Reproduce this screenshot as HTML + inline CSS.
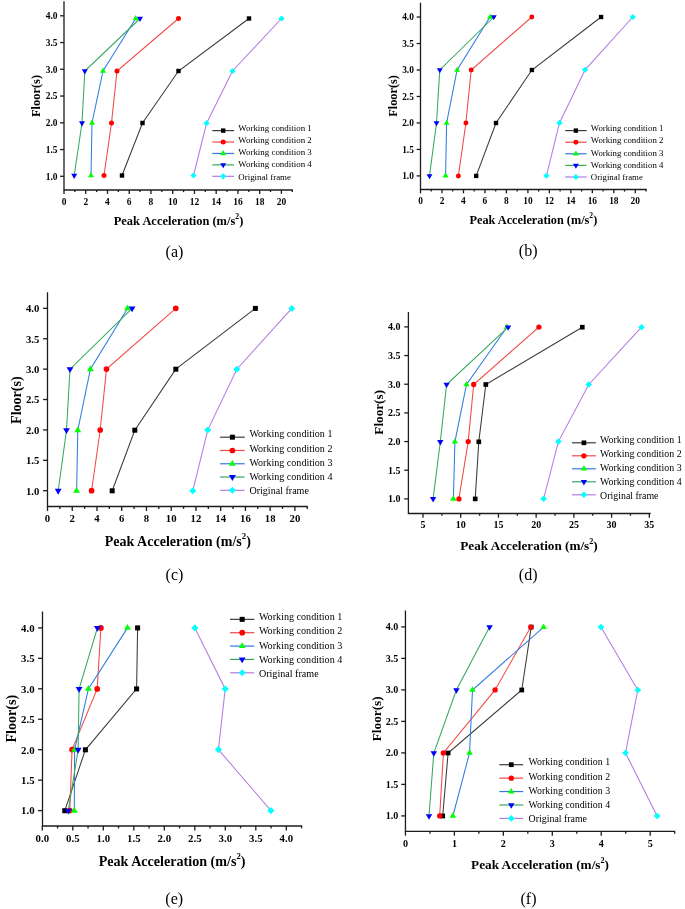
<!DOCTYPE html>
<html><head><meta charset="utf-8"><title>Peak acceleration by floor</title>
<style>
html,body{margin:0;padding:0;background:#fff;}
body{width:685px;height:909px;overflow:hidden;font-family:"Liberation Serif",serif;}
svg{display:block;font-family:"Liberation Serif",serif;fill:#000;}
svg text{filter:grayscale(1);}
</style></head><body>
<svg width="685" height="909" viewBox="0 0 685 909">
<rect width="685" height="909" fill="#fff"/>
<g id="chart-a">
<path d="M64.00 1.90 V190.00 H292.30" fill="none" stroke="#1c1c1c" stroke-width="1.3" stroke-linecap="square"/>
<path d="M64.00 176.30 h-3.9" stroke="#1c1c1c" stroke-width="1.3"/>
<text x="57.50" y="179.65" font-size="9.45" font-weight="bold" text-anchor="end">1.0</text>
<path d="M64.00 149.55 h-3.9" stroke="#1c1c1c" stroke-width="1.3"/>
<text x="57.50" y="152.90" font-size="9.45" font-weight="bold" text-anchor="end">1.5</text>
<path d="M64.00 122.80 h-3.9" stroke="#1c1c1c" stroke-width="1.3"/>
<text x="57.50" y="126.15" font-size="9.45" font-weight="bold" text-anchor="end">2.0</text>
<path d="M64.00 96.05 h-3.9" stroke="#1c1c1c" stroke-width="1.3"/>
<text x="57.50" y="99.40" font-size="9.45" font-weight="bold" text-anchor="end">2.5</text>
<path d="M64.00 69.30 h-3.9" stroke="#1c1c1c" stroke-width="1.3"/>
<text x="57.50" y="72.65" font-size="9.45" font-weight="bold" text-anchor="end">3.0</text>
<path d="M64.00 42.55 h-3.9" stroke="#1c1c1c" stroke-width="1.3"/>
<text x="57.50" y="45.90" font-size="9.45" font-weight="bold" text-anchor="end">3.5</text>
<path d="M64.00 15.80 h-3.9" stroke="#1c1c1c" stroke-width="1.3"/>
<text x="57.50" y="19.15" font-size="9.45" font-weight="bold" text-anchor="end">4.0</text>
<path d="M64.00 190.00 v3.9" stroke="#1c1c1c" stroke-width="1.3"/>
<text x="64.00" y="205.20" font-size="9.45" font-weight="bold" text-anchor="middle">0</text>
<path d="M85.74 190.00 v3.9" stroke="#1c1c1c" stroke-width="1.3"/>
<text x="85.74" y="205.20" font-size="9.45" font-weight="bold" text-anchor="middle">2</text>
<path d="M107.48 190.00 v3.9" stroke="#1c1c1c" stroke-width="1.3"/>
<text x="107.48" y="205.20" font-size="9.45" font-weight="bold" text-anchor="middle">4</text>
<path d="M129.22 190.00 v3.9" stroke="#1c1c1c" stroke-width="1.3"/>
<text x="129.22" y="205.20" font-size="9.45" font-weight="bold" text-anchor="middle">6</text>
<path d="M150.96 190.00 v3.9" stroke="#1c1c1c" stroke-width="1.3"/>
<text x="150.96" y="205.20" font-size="9.45" font-weight="bold" text-anchor="middle">8</text>
<path d="M172.70 190.00 v3.9" stroke="#1c1c1c" stroke-width="1.3"/>
<text x="172.70" y="205.20" font-size="9.45" font-weight="bold" text-anchor="middle">10</text>
<path d="M194.44 190.00 v3.9" stroke="#1c1c1c" stroke-width="1.3"/>
<text x="194.44" y="205.20" font-size="9.45" font-weight="bold" text-anchor="middle">12</text>
<path d="M216.18 190.00 v3.9" stroke="#1c1c1c" stroke-width="1.3"/>
<text x="216.18" y="205.20" font-size="9.45" font-weight="bold" text-anchor="middle">14</text>
<path d="M237.92 190.00 v3.9" stroke="#1c1c1c" stroke-width="1.3"/>
<text x="237.92" y="205.20" font-size="9.45" font-weight="bold" text-anchor="middle">16</text>
<path d="M259.66 190.00 v3.9" stroke="#1c1c1c" stroke-width="1.3"/>
<text x="259.66" y="205.20" font-size="9.45" font-weight="bold" text-anchor="middle">18</text>
<path d="M281.40 190.00 v3.9" stroke="#1c1c1c" stroke-width="1.3"/>
<text x="281.40" y="205.20" font-size="9.45" font-weight="bold" text-anchor="middle">20</text>
<path d="M74.87 190.00 v2.1" stroke="#1c1c1c" stroke-width="1.3"/>
<path d="M96.61 190.00 v2.1" stroke="#1c1c1c" stroke-width="1.3"/>
<path d="M118.35 190.00 v2.1" stroke="#1c1c1c" stroke-width="1.3"/>
<path d="M140.09 190.00 v2.1" stroke="#1c1c1c" stroke-width="1.3"/>
<path d="M161.83 190.00 v2.1" stroke="#1c1c1c" stroke-width="1.3"/>
<path d="M183.57 190.00 v2.1" stroke="#1c1c1c" stroke-width="1.3"/>
<path d="M205.31 190.00 v2.1" stroke="#1c1c1c" stroke-width="1.3"/>
<path d="M227.05 190.00 v2.1" stroke="#1c1c1c" stroke-width="1.3"/>
<path d="M248.79 190.00 v2.1" stroke="#1c1c1c" stroke-width="1.3"/>
<path d="M270.53 190.00 v2.1" stroke="#1c1c1c" stroke-width="1.3"/>
<path d="M292.27 190.00 v2.1" stroke="#1c1c1c" stroke-width="1.3"/>
<text x="178.5" y="225.20" font-size="12.45" font-weight="bold" text-anchor="middle">Peak Acceleration (m/s<tspan font-size="7.72" dy="-5.85">2</tspan><tspan dy="5.85">)</tspan></text>
<text transform="translate(40.20 96) rotate(-90)" font-size="12.45" font-weight="bold" text-anchor="middle">Floor(s)</text>
<text x="174.5" y="256.70" font-size="16" text-anchor="middle">(a)</text>
<polyline fill="none" stroke="#3a3a3a" stroke-width="1.05" points="122.00,175.50 142.50,123.00 178.50,71.00 249.00,18.50"/>
<polyline fill="none" stroke="#f04a45" stroke-width="1.05" points="104.00,175.50 111.50,123.00 117.00,71.00 178.50,18.50"/>
<polyline fill="none" stroke="#2f7be0" stroke-width="1.05" points="91.00,175.50 92.00,123.00 103.00,71.00 135.70,18.50"/>
<polyline fill="none" stroke="#35a860" stroke-width="1.05" points="74.20,175.50 82.00,123.00 84.80,71.00 140.00,18.50"/>
<polyline fill="none" stroke="#b57be0" stroke-width="1.05" points="193.50,175.50 206.60,123.20 232.50,71.00 281.50,18.50"/>
<rect x="119.80" y="173.30" width="4.40" height="4.40" fill="#000000"/>
<rect x="140.30" y="120.80" width="4.40" height="4.40" fill="#000000"/>
<rect x="176.30" y="68.80" width="4.40" height="4.40" fill="#000000"/>
<rect x="246.80" y="16.30" width="4.40" height="4.40" fill="#000000"/>
<circle cx="104.00" cy="175.50" r="2.50" fill="#ff0000"/>
<circle cx="111.50" cy="123.00" r="2.50" fill="#ff0000"/>
<circle cx="117.00" cy="71.00" r="2.50" fill="#ff0000"/>
<circle cx="178.50" cy="18.50" r="2.50" fill="#ff0000"/>
<path d="M91.00 172.10 L94.00 177.20 L88.00 177.20Z" fill="#00ff00"/>
<path d="M92.00 119.60 L95.00 124.70 L89.00 124.70Z" fill="#00ff00"/>
<path d="M103.00 67.60 L106.00 72.70 L100.00 72.70Z" fill="#00ff00"/>
<path d="M135.70 15.10 L138.70 20.20 L132.70 20.20Z" fill="#00ff00"/>
<path d="M74.20 178.90 L77.20 173.80 L71.20 173.80Z" fill="#0000ff"/>
<path d="M82.00 126.40 L85.00 121.30 L79.00 121.30Z" fill="#0000ff"/>
<path d="M84.80 74.40 L87.80 69.30 L81.80 69.30Z" fill="#0000ff"/>
<path d="M140.00 21.90 L143.00 16.80 L137.00 16.80Z" fill="#0000ff"/>
<path d="M193.50 172.40 L196.60 175.50 L193.50 178.60 L190.40 175.50Z" fill="#00ffff"/>
<path d="M206.60 120.10 L209.70 123.20 L206.60 126.30 L203.50 123.20Z" fill="#00ffff"/>
<path d="M232.50 67.90 L235.60 71.00 L232.50 74.10 L229.40 71.00Z" fill="#00ffff"/>
<path d="M281.50 15.40 L284.60 18.50 L281.50 21.60 L278.40 18.50Z" fill="#00ffff"/>
<path d="M212.3 130.60 H234.1" stroke="#3a3a3a" stroke-width="1.2"/>
<rect x="221.00" y="128.40" width="4.40" height="4.40" fill="#000000"/>
<text x="238.3" y="130.50" font-size="8.92">Working condition 1</text>
<path d="M212.3 142.03 H234.1" stroke="#f04a45" stroke-width="1.2"/>
<circle cx="223.20" cy="142.03" r="2.50" fill="#ff0000"/>
<text x="238.3" y="142.75" font-size="8.92">Working condition 2</text>
<path d="M212.3 153.46 H234.1" stroke="#2f7be0" stroke-width="1.2"/>
<path d="M223.20 150.06 L226.20 155.16 L220.20 155.16Z" fill="#00ff00"/>
<text x="238.3" y="155.00" font-size="8.92">Working condition 3</text>
<path d="M212.3 164.89 H234.1" stroke="#35a860" stroke-width="1.2"/>
<path d="M223.20 168.29 L226.20 163.19 L220.20 163.19Z" fill="#0000ff"/>
<text x="238.3" y="167.25" font-size="8.92">Working condition 4</text>
<path d="M212.3 176.32 H234.1" stroke="#b57be0" stroke-width="1.2"/>
<path d="M223.20 173.22 L226.30 176.32 L223.20 179.42 L220.10 176.32Z" fill="#00ffff"/>
<text x="238.3" y="179.50" font-size="8.92">Original frame</text>
</g>
<g id="chart-b">
<path d="M420.50 3.50 V189.50 H646.00" fill="none" stroke="#1c1c1c" stroke-width="1.3" stroke-linecap="square"/>
<path d="M420.50 175.90 h-3.8609999999999998" stroke="#1c1c1c" stroke-width="1.3"/>
<text x="413.90" y="179.23" font-size="9.37" font-weight="bold" text-anchor="end">1.0</text>
<path d="M420.50 149.43 h-3.8609999999999998" stroke="#1c1c1c" stroke-width="1.3"/>
<text x="413.90" y="152.75" font-size="9.37" font-weight="bold" text-anchor="end">1.5</text>
<path d="M420.50 122.95 h-3.8609999999999998" stroke="#1c1c1c" stroke-width="1.3"/>
<text x="413.90" y="126.28" font-size="9.37" font-weight="bold" text-anchor="end">2.0</text>
<path d="M420.50 96.48 h-3.8609999999999998" stroke="#1c1c1c" stroke-width="1.3"/>
<text x="413.90" y="99.80" font-size="9.37" font-weight="bold" text-anchor="end">2.5</text>
<path d="M420.50 70.00 h-3.8609999999999998" stroke="#1c1c1c" stroke-width="1.3"/>
<text x="413.90" y="73.33" font-size="9.37" font-weight="bold" text-anchor="end">3.0</text>
<path d="M420.50 43.53 h-3.8609999999999998" stroke="#1c1c1c" stroke-width="1.3"/>
<text x="413.90" y="46.85" font-size="9.37" font-weight="bold" text-anchor="end">3.5</text>
<path d="M420.50 17.05 h-3.8609999999999998" stroke="#1c1c1c" stroke-width="1.3"/>
<text x="413.90" y="20.38" font-size="9.37" font-weight="bold" text-anchor="end">4.0</text>
<path d="M420.50 189.50 v3.8609999999999998" stroke="#1c1c1c" stroke-width="1.3"/>
<text x="420.50" y="203.50" font-size="9.37" font-weight="bold" text-anchor="middle">0</text>
<path d="M441.98 189.50 v3.8609999999999998" stroke="#1c1c1c" stroke-width="1.3"/>
<text x="441.98" y="203.50" font-size="9.37" font-weight="bold" text-anchor="middle">2</text>
<path d="M463.46 189.50 v3.8609999999999998" stroke="#1c1c1c" stroke-width="1.3"/>
<text x="463.46" y="203.50" font-size="9.37" font-weight="bold" text-anchor="middle">4</text>
<path d="M484.94 189.50 v3.8609999999999998" stroke="#1c1c1c" stroke-width="1.3"/>
<text x="484.94" y="203.50" font-size="9.37" font-weight="bold" text-anchor="middle">6</text>
<path d="M506.42 189.50 v3.8609999999999998" stroke="#1c1c1c" stroke-width="1.3"/>
<text x="506.42" y="203.50" font-size="9.37" font-weight="bold" text-anchor="middle">8</text>
<path d="M527.90 189.50 v3.8609999999999998" stroke="#1c1c1c" stroke-width="1.3"/>
<text x="527.90" y="203.50" font-size="9.37" font-weight="bold" text-anchor="middle">10</text>
<path d="M549.38 189.50 v3.8609999999999998" stroke="#1c1c1c" stroke-width="1.3"/>
<text x="549.38" y="203.50" font-size="9.37" font-weight="bold" text-anchor="middle">12</text>
<path d="M570.86 189.50 v3.8609999999999998" stroke="#1c1c1c" stroke-width="1.3"/>
<text x="570.86" y="203.50" font-size="9.37" font-weight="bold" text-anchor="middle">14</text>
<path d="M592.34 189.50 v3.8609999999999998" stroke="#1c1c1c" stroke-width="1.3"/>
<text x="592.34" y="203.50" font-size="9.37" font-weight="bold" text-anchor="middle">16</text>
<path d="M613.82 189.50 v3.8609999999999998" stroke="#1c1c1c" stroke-width="1.3"/>
<text x="613.82" y="203.50" font-size="9.37" font-weight="bold" text-anchor="middle">18</text>
<path d="M635.30 189.50 v3.8609999999999998" stroke="#1c1c1c" stroke-width="1.3"/>
<text x="635.30" y="203.50" font-size="9.37" font-weight="bold" text-anchor="middle">20</text>
<path d="M431.24 189.50 v2.079" stroke="#1c1c1c" stroke-width="1.3"/>
<path d="M452.72 189.50 v2.079" stroke="#1c1c1c" stroke-width="1.3"/>
<path d="M474.20 189.50 v2.079" stroke="#1c1c1c" stroke-width="1.3"/>
<path d="M495.68 189.50 v2.079" stroke="#1c1c1c" stroke-width="1.3"/>
<path d="M517.16 189.50 v2.079" stroke="#1c1c1c" stroke-width="1.3"/>
<path d="M538.64 189.50 v2.079" stroke="#1c1c1c" stroke-width="1.3"/>
<path d="M560.12 189.50 v2.079" stroke="#1c1c1c" stroke-width="1.3"/>
<path d="M581.60 189.50 v2.079" stroke="#1c1c1c" stroke-width="1.3"/>
<path d="M603.08 189.50 v2.079" stroke="#1c1c1c" stroke-width="1.3"/>
<path d="M624.56 189.50 v2.079" stroke="#1c1c1c" stroke-width="1.3"/>
<path d="M646.04 189.50 v2.079" stroke="#1c1c1c" stroke-width="1.3"/>
<text x="533.4" y="223.60" font-size="12.25" font-weight="bold" text-anchor="middle">Peak Acceleration (m/s<tspan font-size="7.59" dy="-5.76">2</tspan><tspan dy="5.76">)</tspan></text>
<text transform="translate(396.80 95.9) rotate(-90)" font-size="12.25" font-weight="bold" text-anchor="middle">Floor(s)</text>
<text x="528.2" y="256.00" font-size="16" text-anchor="middle">(b)</text>
<polyline fill="none" stroke="#3a3a3a" stroke-width="1.05" points="476.20,175.90 496.00,123.00 531.90,70.00 601.10,17.00"/>
<polyline fill="none" stroke="#f04a45" stroke-width="1.05" points="458.40,175.90 465.90,123.00 471.20,70.00 531.80,17.00"/>
<polyline fill="none" stroke="#2f7be0" stroke-width="1.05" points="445.60,175.90 446.60,123.00 457.10,70.00 490.00,17.00"/>
<polyline fill="none" stroke="#35a860" stroke-width="1.05" points="429.50,175.90 436.50,123.00 439.80,70.00 493.80,17.00"/>
<polyline fill="none" stroke="#b57be0" stroke-width="1.05" points="546.40,175.80 559.50,122.90 585.10,69.80 632.80,17.00"/>
<rect x="474.02" y="173.72" width="4.36" height="4.36" fill="#000000"/>
<rect x="493.82" y="120.82" width="4.36" height="4.36" fill="#000000"/>
<rect x="529.72" y="67.82" width="4.36" height="4.36" fill="#000000"/>
<rect x="598.92" y="14.82" width="4.36" height="4.36" fill="#000000"/>
<circle cx="458.40" cy="175.90" r="2.48" fill="#ff0000"/>
<circle cx="465.90" cy="123.00" r="2.48" fill="#ff0000"/>
<circle cx="471.20" cy="70.00" r="2.48" fill="#ff0000"/>
<circle cx="531.80" cy="17.00" r="2.48" fill="#ff0000"/>
<path d="M445.60 172.53 L448.57 177.58 L442.63 177.58Z" fill="#00ff00"/>
<path d="M446.60 119.63 L449.57 124.68 L443.63 124.68Z" fill="#00ff00"/>
<path d="M457.10 66.63 L460.07 71.68 L454.13 71.68Z" fill="#00ff00"/>
<path d="M490.00 13.63 L492.97 18.68 L487.03 18.68Z" fill="#00ff00"/>
<path d="M429.50 179.27 L432.47 174.22 L426.53 174.22Z" fill="#0000ff"/>
<path d="M436.50 126.37 L439.47 121.32 L433.53 121.32Z" fill="#0000ff"/>
<path d="M439.80 73.37 L442.77 68.32 L436.83 68.32Z" fill="#0000ff"/>
<path d="M493.80 20.37 L496.77 15.32 L490.83 15.32Z" fill="#0000ff"/>
<path d="M546.40 172.73 L549.47 175.80 L546.40 178.87 L543.33 175.80Z" fill="#00ffff"/>
<path d="M559.50 119.83 L562.57 122.90 L559.50 125.97 L556.43 122.90Z" fill="#00ffff"/>
<path d="M585.10 66.73 L588.17 69.80 L585.10 72.87 L582.03 69.80Z" fill="#00ffff"/>
<path d="M632.80 13.93 L635.87 17.00 L632.80 20.07 L629.73 17.00Z" fill="#00ffff"/>
<path d="M565.2 130.60 H586.6" stroke="#3a3a3a" stroke-width="1.2"/>
<rect x="573.72" y="128.42" width="4.36" height="4.36" fill="#000000"/>
<text x="590.8" y="130.60" font-size="8.8">Working condition 1</text>
<path d="M565.2 142.20 H586.6" stroke="#f04a45" stroke-width="1.2"/>
<circle cx="575.90" cy="142.20" r="2.48" fill="#ff0000"/>
<text x="590.8" y="143.05" font-size="8.8">Working condition 2</text>
<path d="M565.2 153.80 H586.6" stroke="#2f7be0" stroke-width="1.2"/>
<path d="M575.90 150.43 L578.87 155.48 L572.93 155.48Z" fill="#00ff00"/>
<text x="590.8" y="155.50" font-size="8.8">Working condition 3</text>
<path d="M565.2 165.40 H586.6" stroke="#35a860" stroke-width="1.2"/>
<path d="M575.90 168.77 L578.87 163.72 L572.93 163.72Z" fill="#0000ff"/>
<text x="590.8" y="167.95" font-size="8.8">Working condition 4</text>
<path d="M565.2 177.00 H586.6" stroke="#b57be0" stroke-width="1.2"/>
<path d="M575.90 173.93 L578.97 177.00 L575.90 180.07 L572.83 177.00Z" fill="#00ffff"/>
<text x="590.8" y="180.40" font-size="8.8">Original frame</text>
</g>
<g id="chart-c">
<path d="M47.50 293.00 V506.50 H307.20" fill="none" stroke="#1c1c1c" stroke-width="1.3" stroke-linecap="square"/>
<path d="M47.50 490.70 h-4.4304" stroke="#1c1c1c" stroke-width="1.3"/>
<text x="39.40" y="494.51" font-size="10.73" font-weight="bold" text-anchor="end">1.0</text>
<path d="M47.50 460.31 h-4.4304" stroke="#1c1c1c" stroke-width="1.3"/>
<text x="39.40" y="464.12" font-size="10.73" font-weight="bold" text-anchor="end">1.5</text>
<path d="M47.50 429.92 h-4.4304" stroke="#1c1c1c" stroke-width="1.3"/>
<text x="39.40" y="433.73" font-size="10.73" font-weight="bold" text-anchor="end">2.0</text>
<path d="M47.50 399.52 h-4.4304" stroke="#1c1c1c" stroke-width="1.3"/>
<text x="39.40" y="403.33" font-size="10.73" font-weight="bold" text-anchor="end">2.5</text>
<path d="M47.50 369.13 h-4.4304" stroke="#1c1c1c" stroke-width="1.3"/>
<text x="39.40" y="372.94" font-size="10.73" font-weight="bold" text-anchor="end">3.0</text>
<path d="M47.50 338.74 h-4.4304" stroke="#1c1c1c" stroke-width="1.3"/>
<text x="39.40" y="342.55" font-size="10.73" font-weight="bold" text-anchor="end">3.5</text>
<path d="M47.50 308.35 h-4.4304" stroke="#1c1c1c" stroke-width="1.3"/>
<text x="39.40" y="312.16" font-size="10.73" font-weight="bold" text-anchor="end">4.0</text>
<path d="M47.50 506.50 v4.4304" stroke="#1c1c1c" stroke-width="1.3"/>
<text x="47.50" y="522.30" font-size="10.73" font-weight="bold" text-anchor="middle">0</text>
<path d="M72.24 506.50 v4.4304" stroke="#1c1c1c" stroke-width="1.3"/>
<text x="72.24" y="522.30" font-size="10.73" font-weight="bold" text-anchor="middle">2</text>
<path d="M96.98 506.50 v4.4304" stroke="#1c1c1c" stroke-width="1.3"/>
<text x="96.98" y="522.30" font-size="10.73" font-weight="bold" text-anchor="middle">4</text>
<path d="M121.72 506.50 v4.4304" stroke="#1c1c1c" stroke-width="1.3"/>
<text x="121.72" y="522.30" font-size="10.73" font-weight="bold" text-anchor="middle">6</text>
<path d="M146.46 506.50 v4.4304" stroke="#1c1c1c" stroke-width="1.3"/>
<text x="146.46" y="522.30" font-size="10.73" font-weight="bold" text-anchor="middle">8</text>
<path d="M171.20 506.50 v4.4304" stroke="#1c1c1c" stroke-width="1.3"/>
<text x="171.20" y="522.30" font-size="10.73" font-weight="bold" text-anchor="middle">10</text>
<path d="M195.94 506.50 v4.4304" stroke="#1c1c1c" stroke-width="1.3"/>
<text x="195.94" y="522.30" font-size="10.73" font-weight="bold" text-anchor="middle">12</text>
<path d="M220.68 506.50 v4.4304" stroke="#1c1c1c" stroke-width="1.3"/>
<text x="220.68" y="522.30" font-size="10.73" font-weight="bold" text-anchor="middle">14</text>
<path d="M245.42 506.50 v4.4304" stroke="#1c1c1c" stroke-width="1.3"/>
<text x="245.42" y="522.30" font-size="10.73" font-weight="bold" text-anchor="middle">16</text>
<path d="M270.16 506.50 v4.4304" stroke="#1c1c1c" stroke-width="1.3"/>
<text x="270.16" y="522.30" font-size="10.73" font-weight="bold" text-anchor="middle">18</text>
<path d="M294.90 506.50 v4.4304" stroke="#1c1c1c" stroke-width="1.3"/>
<text x="294.90" y="522.30" font-size="10.73" font-weight="bold" text-anchor="middle">20</text>
<path d="M59.87 506.50 v2.3855999999999997" stroke="#1c1c1c" stroke-width="1.3"/>
<path d="M84.61 506.50 v2.3855999999999997" stroke="#1c1c1c" stroke-width="1.3"/>
<path d="M109.35 506.50 v2.3855999999999997" stroke="#1c1c1c" stroke-width="1.3"/>
<path d="M134.09 506.50 v2.3855999999999997" stroke="#1c1c1c" stroke-width="1.3"/>
<path d="M158.83 506.50 v2.3855999999999997" stroke="#1c1c1c" stroke-width="1.3"/>
<path d="M183.57 506.50 v2.3855999999999997" stroke="#1c1c1c" stroke-width="1.3"/>
<path d="M208.31 506.50 v2.3855999999999997" stroke="#1c1c1c" stroke-width="1.3"/>
<path d="M233.05 506.50 v2.3855999999999997" stroke="#1c1c1c" stroke-width="1.3"/>
<path d="M257.79 506.50 v2.3855999999999997" stroke="#1c1c1c" stroke-width="1.3"/>
<path d="M282.53 506.50 v2.3855999999999997" stroke="#1c1c1c" stroke-width="1.3"/>
<path d="M307.27 506.50 v2.3855999999999997" stroke="#1c1c1c" stroke-width="1.3"/>
<text x="177.8" y="545.95" font-size="14.03" font-weight="bold" text-anchor="middle">Peak Acceleration (m/s<tspan font-size="8.70" dy="-6.59">2</tspan><tspan dy="6.59">)</tspan></text>
<text transform="translate(21.40 400.2) rotate(-90)" font-size="14.03" font-weight="bold" text-anchor="middle">Floor(s)</text>
<text x="174.5" y="579.80" font-size="16" text-anchor="middle">(c)</text>
<polyline fill="none" stroke="#3a3a3a" stroke-width="1.05" points="112.20,490.80 134.80,430.20 175.80,369.20 255.40,308.40"/>
<polyline fill="none" stroke="#f04a45" stroke-width="1.05" points="91.60,490.70 100.20,430.00 106.50,369.10 175.80,308.30"/>
<polyline fill="none" stroke="#2f7be0" stroke-width="1.05" points="76.60,490.80 77.80,430.20 90.40,369.20 127.50,308.40"/>
<polyline fill="none" stroke="#35a860" stroke-width="1.05" points="58.20,490.80 66.50,430.20 70.00,369.20 132.10,308.40"/>
<polyline fill="none" stroke="#b57be0" stroke-width="1.05" points="192.80,490.80 207.70,430.10 236.80,369.20 291.80,308.40"/>
<rect x="109.70" y="488.30" width="5.00" height="5.00" fill="#000000"/>
<rect x="132.30" y="427.70" width="5.00" height="5.00" fill="#000000"/>
<rect x="173.30" y="366.70" width="5.00" height="5.00" fill="#000000"/>
<rect x="252.90" y="305.90" width="5.00" height="5.00" fill="#000000"/>
<circle cx="91.60" cy="490.70" r="2.84" fill="#ff0000"/>
<circle cx="100.20" cy="430.00" r="2.84" fill="#ff0000"/>
<circle cx="106.50" cy="369.10" r="2.84" fill="#ff0000"/>
<circle cx="175.80" cy="308.30" r="2.84" fill="#ff0000"/>
<path d="M76.60 486.94 L80.01 492.73 L73.19 492.73Z" fill="#00ff00"/>
<path d="M77.80 426.34 L81.21 432.13 L74.39 432.13Z" fill="#00ff00"/>
<path d="M90.40 365.34 L93.81 371.13 L86.99 371.13Z" fill="#00ff00"/>
<path d="M127.50 304.54 L130.91 310.33 L124.09 310.33Z" fill="#00ff00"/>
<path d="M58.20 494.66 L61.61 488.87 L54.79 488.87Z" fill="#0000ff"/>
<path d="M66.50 434.06 L69.91 428.27 L63.09 428.27Z" fill="#0000ff"/>
<path d="M70.00 373.06 L73.41 367.27 L66.59 367.27Z" fill="#0000ff"/>
<path d="M132.10 312.26 L135.51 306.47 L128.69 306.47Z" fill="#0000ff"/>
<path d="M192.80 487.28 L196.32 490.80 L192.80 494.32 L189.28 490.80Z" fill="#00ffff"/>
<path d="M207.70 426.58 L211.22 430.10 L207.70 433.62 L204.18 430.10Z" fill="#00ffff"/>
<path d="M236.80 365.68 L240.32 369.20 L236.80 372.72 L233.28 369.20Z" fill="#00ffff"/>
<path d="M291.80 304.88 L295.32 308.40 L291.80 311.92 L288.28 308.40Z" fill="#00ffff"/>
<path d="M220.1 437.20 H244.7" stroke="#3a3a3a" stroke-width="1.2"/>
<rect x="229.90" y="434.70" width="5.00" height="5.00" fill="#000000"/>
<text x="249.4" y="437.40" font-size="10.07">Working condition 1</text>
<path d="M220.1 450.48 H244.7" stroke="#f04a45" stroke-width="1.2"/>
<circle cx="232.40" cy="450.48" r="2.84" fill="#ff0000"/>
<text x="249.4" y="451.60" font-size="10.07">Working condition 2</text>
<path d="M220.1 463.76 H244.7" stroke="#2f7be0" stroke-width="1.2"/>
<path d="M232.40 459.90 L235.81 465.69 L228.99 465.69Z" fill="#00ff00"/>
<text x="249.4" y="465.80" font-size="10.07">Working condition 3</text>
<path d="M220.1 477.04 H244.7" stroke="#35a860" stroke-width="1.2"/>
<path d="M232.40 480.90 L235.81 475.11 L228.99 475.11Z" fill="#0000ff"/>
<text x="249.4" y="480.00" font-size="10.07">Working condition 4</text>
<path d="M220.1 490.32 H244.7" stroke="#b57be0" stroke-width="1.2"/>
<path d="M232.40 486.80 L235.92 490.32 L232.40 493.84 L228.88 490.32Z" fill="#00ffff"/>
<text x="249.4" y="494.20" font-size="10.07">Original frame</text>
</g>
<g id="chart-d">
<path d="M408.40 312.55 V513.50 H650.00" fill="none" stroke="#1c1c1c" stroke-width="1.3" stroke-linecap="square"/>
<path d="M408.40 498.90 h-4.134" stroke="#1c1c1c" stroke-width="1.3"/>
<text x="400.60" y="502.45" font-size="10.0" font-weight="bold" text-anchor="end">1.0</text>
<path d="M408.40 470.23 h-4.134" stroke="#1c1c1c" stroke-width="1.3"/>
<text x="400.60" y="473.78" font-size="10.0" font-weight="bold" text-anchor="end">1.5</text>
<path d="M408.40 441.57 h-4.134" stroke="#1c1c1c" stroke-width="1.3"/>
<text x="400.60" y="445.12" font-size="10.0" font-weight="bold" text-anchor="end">2.0</text>
<path d="M408.40 412.90 h-4.134" stroke="#1c1c1c" stroke-width="1.3"/>
<text x="400.60" y="416.45" font-size="10.0" font-weight="bold" text-anchor="end">2.5</text>
<path d="M408.40 384.23 h-4.134" stroke="#1c1c1c" stroke-width="1.3"/>
<text x="400.60" y="387.78" font-size="10.0" font-weight="bold" text-anchor="end">3.0</text>
<path d="M408.40 355.57 h-4.134" stroke="#1c1c1c" stroke-width="1.3"/>
<text x="400.60" y="359.12" font-size="10.0" font-weight="bold" text-anchor="end">3.5</text>
<path d="M408.40 326.90 h-4.134" stroke="#1c1c1c" stroke-width="1.3"/>
<text x="400.60" y="330.45" font-size="10.0" font-weight="bold" text-anchor="end">4.0</text>
<path d="M423.00 513.50 v4.134" stroke="#1c1c1c" stroke-width="1.3"/>
<text x="423.00" y="528.20" font-size="10.0" font-weight="bold" text-anchor="middle">5</text>
<path d="M460.72 513.50 v4.134" stroke="#1c1c1c" stroke-width="1.3"/>
<text x="460.72" y="528.20" font-size="10.0" font-weight="bold" text-anchor="middle">10</text>
<path d="M498.44 513.50 v4.134" stroke="#1c1c1c" stroke-width="1.3"/>
<text x="498.44" y="528.20" font-size="10.0" font-weight="bold" text-anchor="middle">15</text>
<path d="M536.16 513.50 v4.134" stroke="#1c1c1c" stroke-width="1.3"/>
<text x="536.16" y="528.20" font-size="10.0" font-weight="bold" text-anchor="middle">20</text>
<path d="M573.88 513.50 v4.134" stroke="#1c1c1c" stroke-width="1.3"/>
<text x="573.88" y="528.20" font-size="10.0" font-weight="bold" text-anchor="middle">25</text>
<path d="M611.60 513.50 v4.134" stroke="#1c1c1c" stroke-width="1.3"/>
<text x="611.60" y="528.20" font-size="10.0" font-weight="bold" text-anchor="middle">30</text>
<path d="M649.32 513.50 v4.134" stroke="#1c1c1c" stroke-width="1.3"/>
<text x="649.32" y="528.20" font-size="10.0" font-weight="bold" text-anchor="middle">35</text>
<path d="M441.86 513.50 v2.2260000000000004" stroke="#1c1c1c" stroke-width="1.3"/>
<path d="M479.58 513.50 v2.2260000000000004" stroke="#1c1c1c" stroke-width="1.3"/>
<path d="M517.30 513.50 v2.2260000000000004" stroke="#1c1c1c" stroke-width="1.3"/>
<path d="M555.02 513.50 v2.2260000000000004" stroke="#1c1c1c" stroke-width="1.3"/>
<path d="M592.74 513.50 v2.2260000000000004" stroke="#1c1c1c" stroke-width="1.3"/>
<path d="M630.46 513.50 v2.2260000000000004" stroke="#1c1c1c" stroke-width="1.3"/>
<text x="529.0" y="550.00" font-size="13.2" font-weight="bold" text-anchor="middle">Peak Acceleration (m/s<tspan font-size="8.18" dy="-6.20">2</tspan><tspan dy="6.20">)</tspan></text>
<text transform="translate(382.90 412.3) rotate(-90)" font-size="13.2" font-weight="bold" text-anchor="middle">Floor(s)</text>
<text x="528.2" y="579.80" font-size="16" text-anchor="middle">(d)</text>
<polyline fill="none" stroke="#3a3a3a" stroke-width="1.05" points="475.20,498.90 478.80,441.80 485.80,384.50 582.30,327.20"/>
<polyline fill="none" stroke="#f04a45" stroke-width="1.05" points="458.90,498.90 468.20,441.60 473.70,384.50 538.90,327.10"/>
<polyline fill="none" stroke="#2f7be0" stroke-width="1.05" points="453.40,498.90 454.90,441.80 466.50,384.50 506.90,327.20"/>
<polyline fill="none" stroke="#35a860" stroke-width="1.05" points="433.10,498.90 440.30,441.80 446.60,384.50 508.10,327.20"/>
<polyline fill="none" stroke="#b57be0" stroke-width="1.05" points="543.60,498.80 558.40,441.60 588.80,384.50 641.50,327.20"/>
<rect x="472.87" y="496.57" width="4.66" height="4.66" fill="#000000"/>
<rect x="476.47" y="439.47" width="4.66" height="4.66" fill="#000000"/>
<rect x="483.47" y="382.17" width="4.66" height="4.66" fill="#000000"/>
<rect x="579.97" y="324.87" width="4.66" height="4.66" fill="#000000"/>
<circle cx="458.90" cy="498.90" r="2.65" fill="#ff0000"/>
<circle cx="468.20" cy="441.60" r="2.65" fill="#ff0000"/>
<circle cx="473.70" cy="384.50" r="2.65" fill="#ff0000"/>
<circle cx="538.90" cy="327.10" r="2.65" fill="#ff0000"/>
<path d="M453.40 495.30 L456.58 500.70 L450.22 500.70Z" fill="#00ff00"/>
<path d="M454.90 438.20 L458.08 443.60 L451.72 443.60Z" fill="#00ff00"/>
<path d="M466.50 380.90 L469.68 386.30 L463.32 386.30Z" fill="#00ff00"/>
<path d="M506.90 323.60 L510.08 329.00 L503.72 329.00Z" fill="#00ff00"/>
<path d="M433.10 502.50 L436.28 497.10 L429.92 497.10Z" fill="#0000ff"/>
<path d="M440.30 445.40 L443.48 440.00 L437.12 440.00Z" fill="#0000ff"/>
<path d="M446.60 388.10 L449.78 382.70 L443.42 382.70Z" fill="#0000ff"/>
<path d="M508.10 330.80 L511.28 325.40 L504.92 325.40Z" fill="#0000ff"/>
<path d="M543.60 495.51 L546.89 498.80 L543.60 502.09 L540.31 498.80Z" fill="#00ffff"/>
<path d="M558.40 438.31 L561.69 441.60 L558.40 444.89 L555.11 441.60Z" fill="#00ffff"/>
<path d="M588.80 381.21 L592.09 384.50 L588.80 387.79 L585.51 384.50Z" fill="#00ffff"/>
<path d="M641.50 323.91 L644.79 327.20 L641.50 330.49 L638.21 327.20Z" fill="#00ffff"/>
<path d="M572.0 442.80 H595.85" stroke="#3a3a3a" stroke-width="1.2"/>
<rect x="581.59" y="440.47" width="4.66" height="4.66" fill="#000000"/>
<text x="600.1" y="443.30" font-size="9.88">Working condition 1</text>
<path d="M572.0 455.80 H595.85" stroke="#f04a45" stroke-width="1.2"/>
<circle cx="583.92" cy="455.80" r="2.65" fill="#ff0000"/>
<text x="600.1" y="457.25" font-size="9.88">Working condition 2</text>
<path d="M572.0 468.80 H595.85" stroke="#2f7be0" stroke-width="1.2"/>
<path d="M583.92 465.20 L587.10 470.60 L580.75 470.60Z" fill="#00ff00"/>
<text x="600.1" y="471.20" font-size="9.88">Working condition 3</text>
<path d="M572.0 481.80 H595.85" stroke="#35a860" stroke-width="1.2"/>
<path d="M583.92 485.40 L587.10 480.00 L580.75 480.00Z" fill="#0000ff"/>
<text x="600.1" y="485.15" font-size="9.88">Working condition 4</text>
<path d="M572.0 494.80 H595.85" stroke="#b57be0" stroke-width="1.2"/>
<path d="M583.92 491.51 L587.21 494.80 L583.92 498.09 L580.64 494.80Z" fill="#00ffff"/>
<text x="600.1" y="499.10" font-size="9.88">Original frame</text>
</g>
<g id="chart-e">
<path d="M42.50 612.05 V826.00 H301.55" fill="none" stroke="#1c1c1c" stroke-width="1.3" stroke-linecap="square"/>
<path d="M42.50 810.60 h-4.446" stroke="#1c1c1c" stroke-width="1.3"/>
<text x="34.60" y="814.43" font-size="10.8" font-weight="bold" text-anchor="end">1.0</text>
<path d="M42.50 780.15 h-4.446" stroke="#1c1c1c" stroke-width="1.3"/>
<text x="34.60" y="783.98" font-size="10.8" font-weight="bold" text-anchor="end">1.5</text>
<path d="M42.50 749.70 h-4.446" stroke="#1c1c1c" stroke-width="1.3"/>
<text x="34.60" y="753.53" font-size="10.8" font-weight="bold" text-anchor="end">2.0</text>
<path d="M42.50 719.25 h-4.446" stroke="#1c1c1c" stroke-width="1.3"/>
<text x="34.60" y="723.08" font-size="10.8" font-weight="bold" text-anchor="end">2.5</text>
<path d="M42.50 688.80 h-4.446" stroke="#1c1c1c" stroke-width="1.3"/>
<text x="34.60" y="692.63" font-size="10.8" font-weight="bold" text-anchor="end">3.0</text>
<path d="M42.50 658.35 h-4.446" stroke="#1c1c1c" stroke-width="1.3"/>
<text x="34.60" y="662.18" font-size="10.8" font-weight="bold" text-anchor="end">3.5</text>
<path d="M42.50 627.90 h-4.446" stroke="#1c1c1c" stroke-width="1.3"/>
<text x="34.60" y="631.73" font-size="10.8" font-weight="bold" text-anchor="end">4.0</text>
<path d="M42.30 826.00 v4.446" stroke="#1c1c1c" stroke-width="1.3"/>
<text x="42.30" y="842.20" font-size="10.8" font-weight="bold" text-anchor="middle">0.0</text>
<path d="M72.80 826.00 v4.446" stroke="#1c1c1c" stroke-width="1.3"/>
<text x="72.80" y="842.20" font-size="10.8" font-weight="bold" text-anchor="middle">0.5</text>
<path d="M103.30 826.00 v4.446" stroke="#1c1c1c" stroke-width="1.3"/>
<text x="103.30" y="842.20" font-size="10.8" font-weight="bold" text-anchor="middle">1.0</text>
<path d="M133.80 826.00 v4.446" stroke="#1c1c1c" stroke-width="1.3"/>
<text x="133.80" y="842.20" font-size="10.8" font-weight="bold" text-anchor="middle">1.5</text>
<path d="M164.30 826.00 v4.446" stroke="#1c1c1c" stroke-width="1.3"/>
<text x="164.30" y="842.20" font-size="10.8" font-weight="bold" text-anchor="middle">2.0</text>
<path d="M194.80 826.00 v4.446" stroke="#1c1c1c" stroke-width="1.3"/>
<text x="194.80" y="842.20" font-size="10.8" font-weight="bold" text-anchor="middle">2.5</text>
<path d="M225.30 826.00 v4.446" stroke="#1c1c1c" stroke-width="1.3"/>
<text x="225.30" y="842.20" font-size="10.8" font-weight="bold" text-anchor="middle">3.0</text>
<path d="M255.80 826.00 v4.446" stroke="#1c1c1c" stroke-width="1.3"/>
<text x="255.80" y="842.20" font-size="10.8" font-weight="bold" text-anchor="middle">3.5</text>
<path d="M286.30 826.00 v4.446" stroke="#1c1c1c" stroke-width="1.3"/>
<text x="286.30" y="842.20" font-size="10.8" font-weight="bold" text-anchor="middle">4.0</text>
<path d="M57.55 826.00 v2.3939999999999997" stroke="#1c1c1c" stroke-width="1.3"/>
<path d="M88.05 826.00 v2.3939999999999997" stroke="#1c1c1c" stroke-width="1.3"/>
<path d="M118.55 826.00 v2.3939999999999997" stroke="#1c1c1c" stroke-width="1.3"/>
<path d="M149.05 826.00 v2.3939999999999997" stroke="#1c1c1c" stroke-width="1.3"/>
<path d="M179.55 826.00 v2.3939999999999997" stroke="#1c1c1c" stroke-width="1.3"/>
<path d="M210.05 826.00 v2.3939999999999997" stroke="#1c1c1c" stroke-width="1.3"/>
<path d="M240.55 826.00 v2.3939999999999997" stroke="#1c1c1c" stroke-width="1.3"/>
<path d="M271.05 826.00 v2.3939999999999997" stroke="#1c1c1c" stroke-width="1.3"/>
<path d="M301.55 826.00 v2.3939999999999997" stroke="#1c1c1c" stroke-width="1.3"/>
<text x="172.1" y="865.90" font-size="14.1" font-weight="bold" text-anchor="middle">Peak Acceleration (m/s<tspan font-size="8.74" dy="-6.63">2</tspan><tspan dy="6.63">)</tspan></text>
<text transform="translate(16.10 718.7) rotate(-90)" font-size="14.1" font-weight="bold" text-anchor="middle">Floor(s)</text>
<text x="174.2" y="903.60" font-size="16" text-anchor="middle">(e)</text>
<polyline fill="none" stroke="#3a3a3a" stroke-width="1.05" points="64.80,810.70 85.40,749.80 136.60,688.90 137.60,627.90"/>
<polyline fill="none" stroke="#f04a45" stroke-width="1.05" points="69.80,810.60 72.05,749.60 97.20,688.90 100.90,627.90"/>
<polyline fill="none" stroke="#2f7be0" stroke-width="1.05" points="74.30,810.70 74.60,749.80 88.40,688.90 127.50,627.90"/>
<polyline fill="none" stroke="#35a860" stroke-width="1.05" points="68.30,810.70 78.10,749.80 79.10,688.90 97.40,627.90"/>
<polyline fill="none" stroke="#b57be0" stroke-width="1.05" points="270.90,810.60 218.45,749.60 225.20,688.90 194.85,627.90"/>
<rect x="62.29" y="808.19" width="5.02" height="5.02" fill="#000000"/>
<rect x="82.89" y="747.29" width="5.02" height="5.02" fill="#000000"/>
<rect x="134.09" y="686.39" width="5.02" height="5.02" fill="#000000"/>
<rect x="135.09" y="625.39" width="5.02" height="5.02" fill="#000000"/>
<circle cx="69.80" cy="810.60" r="2.85" fill="#ff0000"/>
<circle cx="72.05" cy="749.60" r="2.85" fill="#ff0000"/>
<circle cx="97.20" cy="688.90" r="2.85" fill="#ff0000"/>
<circle cx="100.90" cy="627.90" r="2.85" fill="#ff0000"/>
<path d="M74.30 806.82 L77.72 812.64 L70.88 812.64Z" fill="#00ff00"/>
<path d="M74.60 745.92 L78.02 751.74 L71.18 751.74Z" fill="#00ff00"/>
<path d="M88.40 685.02 L91.82 690.84 L84.98 690.84Z" fill="#00ff00"/>
<path d="M127.50 624.02 L130.92 629.84 L124.08 629.84Z" fill="#00ff00"/>
<path d="M68.30 814.58 L71.72 808.76 L64.88 808.76Z" fill="#0000ff"/>
<path d="M78.10 753.68 L81.52 747.86 L74.68 747.86Z" fill="#0000ff"/>
<path d="M79.10 692.78 L82.52 686.96 L75.68 686.96Z" fill="#0000ff"/>
<path d="M97.40 631.78 L100.82 625.96 L93.98 625.96Z" fill="#0000ff"/>
<path d="M270.90 807.07 L274.43 810.60 L270.90 814.13 L267.37 810.60Z" fill="#00ffff"/>
<path d="M218.45 746.07 L221.98 749.60 L218.45 753.13 L214.92 749.60Z" fill="#00ffff"/>
<path d="M225.20 685.37 L228.73 688.90 L225.20 692.43 L221.67 688.90Z" fill="#00ffff"/>
<path d="M194.85 624.37 L198.38 627.90 L194.85 631.43 L191.32 627.90Z" fill="#00ffff"/>
<path d="M230.0 619.35 H254.35" stroke="#3a3a3a" stroke-width="1.2"/>
<rect x="239.67" y="616.84" width="5.02" height="5.02" fill="#000000"/>
<text x="258.9" y="620.10" font-size="10.12">Working condition 1</text>
<path d="M230.0 632.71 H254.35" stroke="#f04a45" stroke-width="1.2"/>
<circle cx="242.18" cy="632.71" r="2.85" fill="#ff0000"/>
<text x="258.9" y="634.35" font-size="10.12">Working condition 2</text>
<path d="M230.0 646.07 H254.35" stroke="#2f7be0" stroke-width="1.2"/>
<path d="M242.18 642.19 L245.59 648.01 L238.76 648.01Z" fill="#00ff00"/>
<text x="258.9" y="648.60" font-size="10.12">Working condition 3</text>
<path d="M230.0 659.43 H254.35" stroke="#35a860" stroke-width="1.2"/>
<path d="M242.18 663.31 L245.59 657.49 L238.76 657.49Z" fill="#0000ff"/>
<text x="258.9" y="662.85" font-size="10.12">Working condition 4</text>
<path d="M230.0 672.79 H254.35" stroke="#b57be0" stroke-width="1.2"/>
<path d="M242.18 669.26 L245.71 672.79 L242.18 676.32 L238.64 672.79Z" fill="#00ffff"/>
<text x="258.9" y="677.10" font-size="10.12">Original frame</text>
</g>
<g id="chart-f">
<path d="M405.45 611.05 V831.45 H674.50" fill="none" stroke="#1c1c1c" stroke-width="1.3" stroke-linecap="square"/>
<path d="M405.45 815.90 h-4.212" stroke="#1c1c1c" stroke-width="1.3"/>
<text x="398.35" y="819.49" font-size="10.1" font-weight="bold" text-anchor="end">1.0</text>
<path d="M405.45 784.40 h-4.212" stroke="#1c1c1c" stroke-width="1.3"/>
<text x="398.35" y="787.99" font-size="10.1" font-weight="bold" text-anchor="end">1.5</text>
<path d="M405.45 752.90 h-4.212" stroke="#1c1c1c" stroke-width="1.3"/>
<text x="398.35" y="756.49" font-size="10.1" font-weight="bold" text-anchor="end">2.0</text>
<path d="M405.45 721.40 h-4.212" stroke="#1c1c1c" stroke-width="1.3"/>
<text x="398.35" y="724.99" font-size="10.1" font-weight="bold" text-anchor="end">2.5</text>
<path d="M405.45 689.90 h-4.212" stroke="#1c1c1c" stroke-width="1.3"/>
<text x="398.35" y="693.49" font-size="10.1" font-weight="bold" text-anchor="end">3.0</text>
<path d="M405.45 658.40 h-4.212" stroke="#1c1c1c" stroke-width="1.3"/>
<text x="398.35" y="661.99" font-size="10.1" font-weight="bold" text-anchor="end">3.5</text>
<path d="M405.45 626.90 h-4.212" stroke="#1c1c1c" stroke-width="1.3"/>
<text x="398.35" y="630.49" font-size="10.1" font-weight="bold" text-anchor="end">4.0</text>
<path d="M405.45 831.45 v4.212" stroke="#1c1c1c" stroke-width="1.3"/>
<text x="405.45" y="847.15" font-size="10.1" font-weight="bold" text-anchor="middle">0</text>
<path d="M454.40 831.45 v4.212" stroke="#1c1c1c" stroke-width="1.3"/>
<text x="454.40" y="847.15" font-size="10.1" font-weight="bold" text-anchor="middle">1</text>
<path d="M503.35 831.45 v4.212" stroke="#1c1c1c" stroke-width="1.3"/>
<text x="503.35" y="847.15" font-size="10.1" font-weight="bold" text-anchor="middle">2</text>
<path d="M552.30 831.45 v4.212" stroke="#1c1c1c" stroke-width="1.3"/>
<text x="552.30" y="847.15" font-size="10.1" font-weight="bold" text-anchor="middle">3</text>
<path d="M601.25 831.45 v4.212" stroke="#1c1c1c" stroke-width="1.3"/>
<text x="601.25" y="847.15" font-size="10.1" font-weight="bold" text-anchor="middle">4</text>
<path d="M650.20 831.45 v4.212" stroke="#1c1c1c" stroke-width="1.3"/>
<text x="650.20" y="847.15" font-size="10.1" font-weight="bold" text-anchor="middle">5</text>
<path d="M429.93 831.45 v2.2680000000000002" stroke="#1c1c1c" stroke-width="1.3"/>
<path d="M478.88 831.45 v2.2680000000000002" stroke="#1c1c1c" stroke-width="1.3"/>
<path d="M527.83 831.45 v2.2680000000000002" stroke="#1c1c1c" stroke-width="1.3"/>
<path d="M576.77 831.45 v2.2680000000000002" stroke="#1c1c1c" stroke-width="1.3"/>
<path d="M625.73 831.45 v2.2680000000000002" stroke="#1c1c1c" stroke-width="1.3"/>
<path d="M674.67 831.45 v2.2680000000000002" stroke="#1c1c1c" stroke-width="1.3"/>
<text x="540.05" y="869.05" font-size="13.24" font-weight="bold" text-anchor="middle">Peak Acceleration (m/s<tspan font-size="8.21" dy="-6.22">2</tspan><tspan dy="6.22">)</tspan></text>
<text transform="translate(380.80 718.8) rotate(-90)" font-size="13.24" font-weight="bold" text-anchor="middle">Floor(s)</text>
<text x="528.5" y="903.60" font-size="16" text-anchor="middle">(f)</text>
<polyline fill="none" stroke="#3a3a3a" stroke-width="1.05" points="442.70,816.00 448.10,753.00 521.75,690.00 531.20,627.10"/>
<polyline fill="none" stroke="#f04a45" stroke-width="1.05" points="439.70,815.90 443.40,752.90 495.10,689.90 530.80,627.10"/>
<polyline fill="none" stroke="#2f7be0" stroke-width="1.05" points="452.90,816.00 469.55,753.00 472.50,690.00 543.60,627.10"/>
<polyline fill="none" stroke="#35a860" stroke-width="1.05" points="429.00,816.00 433.80,753.00 456.40,690.00 489.55,627.10"/>
<polyline fill="none" stroke="#b57be0" stroke-width="1.05" points="657.10,815.90 625.50,752.90 637.80,690.00 600.90,627.10"/>
<rect x="440.32" y="813.62" width="4.75" height="4.75" fill="#000000"/>
<rect x="445.72" y="750.62" width="4.75" height="4.75" fill="#000000"/>
<rect x="519.37" y="687.62" width="4.75" height="4.75" fill="#000000"/>
<rect x="528.82" y="624.72" width="4.75" height="4.75" fill="#000000"/>
<circle cx="439.70" cy="815.90" r="2.70" fill="#ff0000"/>
<circle cx="443.40" cy="752.90" r="2.70" fill="#ff0000"/>
<circle cx="495.10" cy="689.90" r="2.70" fill="#ff0000"/>
<circle cx="530.80" cy="627.10" r="2.70" fill="#ff0000"/>
<path d="M452.90 812.33 L456.14 817.84 L449.66 817.84Z" fill="#00ff00"/>
<path d="M469.55 749.33 L472.79 754.84 L466.31 754.84Z" fill="#00ff00"/>
<path d="M472.50 686.33 L475.74 691.84 L469.26 691.84Z" fill="#00ff00"/>
<path d="M543.60 623.43 L546.84 628.94 L540.36 628.94Z" fill="#00ff00"/>
<path d="M429.00 819.67 L432.24 814.16 L425.76 814.16Z" fill="#0000ff"/>
<path d="M433.80 756.67 L437.04 751.16 L430.56 751.16Z" fill="#0000ff"/>
<path d="M456.40 693.67 L459.64 688.16 L453.16 688.16Z" fill="#0000ff"/>
<path d="M489.55 630.77 L492.79 625.26 L486.31 625.26Z" fill="#0000ff"/>
<path d="M657.10 812.55 L660.45 815.90 L657.10 819.25 L653.75 815.90Z" fill="#00ffff"/>
<path d="M625.50 749.55 L628.85 752.90 L625.50 756.25 L622.15 752.90Z" fill="#00ffff"/>
<path d="M637.80 686.65 L641.15 690.00 L637.80 693.35 L634.45 690.00Z" fill="#00ffff"/>
<path d="M600.90 623.75 L604.25 627.10 L600.90 630.45 L597.55 627.10Z" fill="#00ffff"/>
<path d="M499.35 764.70 H523.2" stroke="#3a3a3a" stroke-width="1.2"/>
<rect x="508.90" y="762.32" width="4.75" height="4.75" fill="#000000"/>
<text x="528.6" y="765.20" font-size="9.9">Working condition 1</text>
<path d="M499.35 778.13 H523.2" stroke="#f04a45" stroke-width="1.2"/>
<circle cx="511.28" cy="778.13" r="2.70" fill="#ff0000"/>
<text x="528.6" y="779.50" font-size="9.9">Working condition 2</text>
<path d="M499.35 791.56 H523.2" stroke="#2f7be0" stroke-width="1.2"/>
<path d="M511.28 787.89 L514.51 793.40 L508.04 793.40Z" fill="#00ff00"/>
<text x="528.6" y="793.80" font-size="9.9">Working condition 3</text>
<path d="M499.35 804.99 H523.2" stroke="#35a860" stroke-width="1.2"/>
<path d="M511.28 808.66 L514.51 803.15 L508.04 803.15Z" fill="#0000ff"/>
<text x="528.6" y="808.10" font-size="9.9">Working condition 4</text>
<path d="M499.35 818.42 H523.2" stroke="#b57be0" stroke-width="1.2"/>
<path d="M511.28 815.07 L514.62 818.42 L511.28 821.77 L507.93 818.42Z" fill="#00ffff"/>
<text x="528.6" y="822.40" font-size="9.9">Original frame</text>
</g>
</svg>
</body></html>
